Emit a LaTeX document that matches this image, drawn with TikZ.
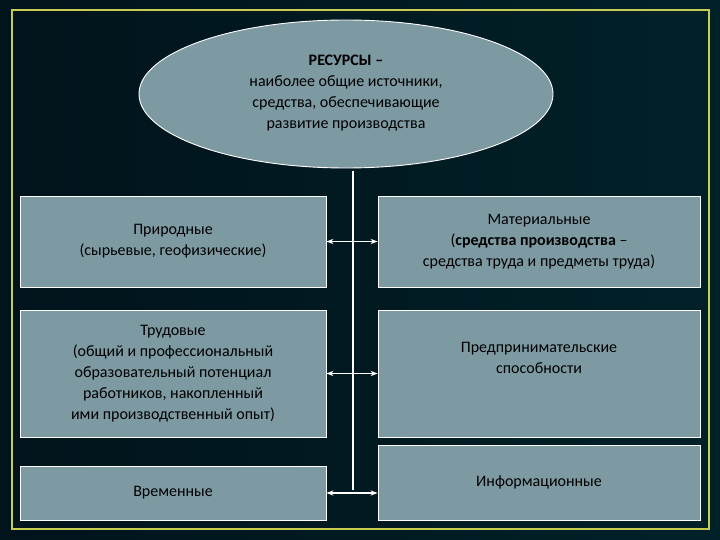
\documentclass[tikz,border=0pt]{standalone}
\usepackage{fontspec}
\setmainfont{Carlito}
\usetikzlibrary{arrows.meta,shapes.geometric}
\definecolor{bg}{HTML}{021C28}
\definecolor{fillc}{HTML}{7D9AA3}
\definecolor{frame}{HTML}{C8CC50}
\tikzset{box/.style={draw=white,line width=0.9pt,fill=fillc,inner sep=0pt,align=center,font=\fontsize{16}{21}\selectfont},
conn/.style={white,line width=1.2pt,{Stealth[length=7pt]}-{Stealth[length=7pt]}}}
\begin{document}
\begin{tikzpicture}[x=1pt,y=-1pt]
\fill[bg] (0,0) rectangle (720,540);
\shade[left color=black!60!bg,right color=bg!70!cyan!40!black,opacity=0.5] (0,0) rectangle (720,540);
\draw[frame,line width=1.5pt] (12,10) rectangle (709,529);
\node[box,ellipse,minimum width=414,minimum height=148] (e) at (346,94) {};
\node[align=center,font=\fontsize{16}{21}\selectfont] at (346,93) {\textbf{РЕСУРСЫ –}\\наиболее общие источники,\\средства, обеспечивающие\\развитие производства};
\node[box,minimum width=306,minimum height=91] (l1) at (173,241.5) {Природные\\(сырьевые, геофизические)};
\node[box,minimum width=306,minimum height=127] (l2) at (173,373.5) {Трудовые\\(общий и профессиональный\\образовательный потенциал\\работников, накопленный\\ими производственный опыт)};
\node[box,minimum width=306,minimum height=54] (l3) at (173,493) {Временные};
\node[box,minimum width=322,minimum height=91] (r1) at (539,241.5) {Материальные\\(\textbf{средства производства} –\\средства труда и предметы труда)};
\node[box,minimum width=322,minimum height=127] (r2) at (539,373.5) {Предпринимательские\\способности\\[10pt]};
\node[box,minimum width=322,minimum height=75] (r3) at (539,482.5) {Информационные};
\coordinate (top) at (353,171);
\coordinate (bot) at (353,490);
\draw[white,line width=1.5pt] (top) -- (bot);
\draw[conn] (l1.east) -- (r1.west);
\draw[conn] (l2.east) -- (r2.west);
\draw[conn] (l3.east) -- (l3.east -| r3.west);
\end{tikzpicture}
\end{document}
